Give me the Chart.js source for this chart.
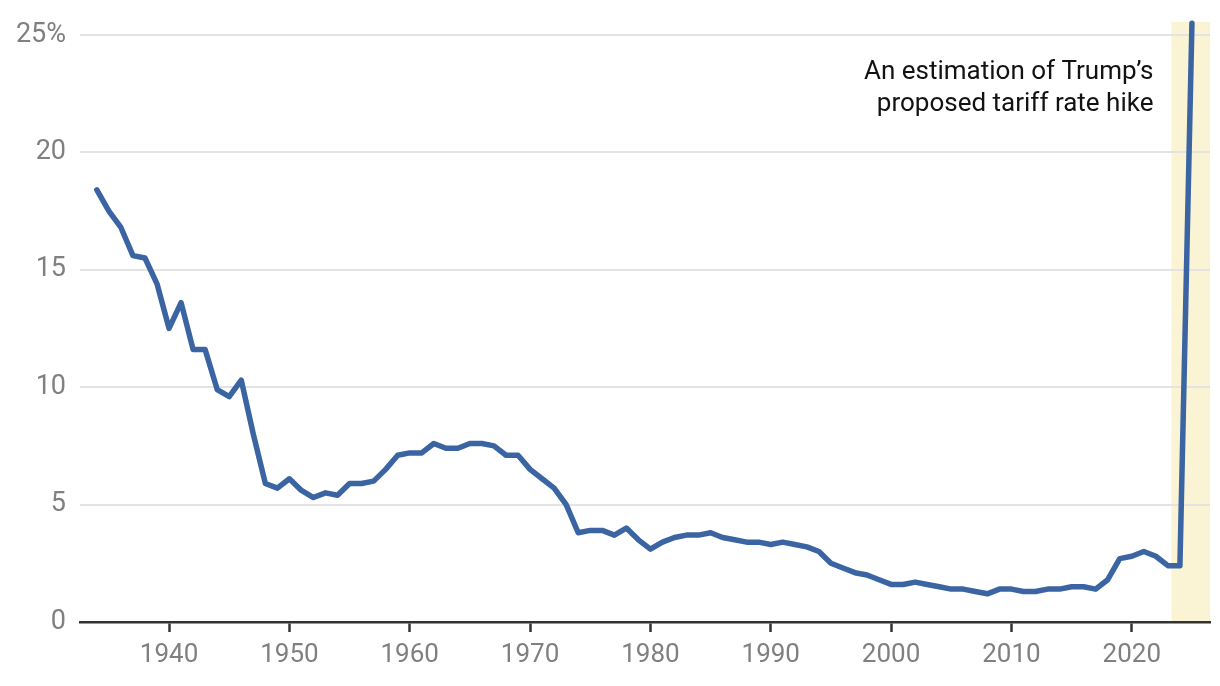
<!DOCTYPE html>
<html lang="en">
<head>
    <meta charset="UTF-8">
    <title>Tariff rate</title>
    <script src="https://cdn.jsdelivr.net/npm/chart.js"></script>
    <style>
        html, body { margin: 0; padding: 0; background: #fff; }
        #wrap { width: 1220px; height: 686px; }
    </style>
</head>
<body>
    <div id="wrap"><canvas id="chart" width="1220" height="686"></canvas></div>

    <script>
        // Average tariff rate by year, last point is the proposed hike
        const years = [];
        for (let y = 1934; y <= 2025; y++) years.push(y);

        const rates = [
            18.4, 17.5, 16.8, 15.6, 15.5, 14.4, 12.5, 13.6, 11.6, 11.6, // 1934-1943
            9.9, 9.6, 10.3, 8.0, 5.9, 5.7, 6.1, 5.6, 5.3, 5.5,          // 1944-1953
            5.4, 5.9, 5.9, 6.0, 6.5, 7.1, 7.2, 7.2, 7.6, 7.4,           // 1954-1963
            7.4, 7.6, 7.6, 7.5, 7.1, 7.1, 6.5, 6.1, 5.7, 5.0,           // 1964-1973
            3.8, 3.9, 3.9, 3.7, 4.0, 3.5, 3.1, 3.4, 3.6, 3.7,           // 1974-1983
            3.7, 3.8, 3.6, 3.5, 3.4, 3.4, 3.3, 3.4, 3.3, 3.2,           // 1984-1993
            3.0, 2.5, 2.3, 2.1, 2.0, 1.8, 1.6, 1.6, 1.7, 1.6,           // 1994-2003
            1.5, 1.4, 1.4, 1.3, 1.2, 1.4, 1.4, 1.3, 1.3, 1.4,           // 2004-2013
            1.4, 1.5, 1.5, 1.4, 1.8, 2.7, 2.8, 3.0, 2.8, 2.4,           // 2014-2023
            2.4, 25.5                                                   // 2024-2025
        ];

        const xTicks = [1940, 1950, 1960, 1970, 1980, 1990, 2000, 2010, 2020];
        const yTicks = [0, 5, 10, 15, 20, 25];
        const highlightRange = [2023.3, 2026.5];
        const noteLines = ["An estimation of Trump\u2019s", "proposed tariff rate hike"];

        const FONT = "Roboto, 'Liberation Sans', sans-serif";

        // yellow band behind the proposal, plus the note
        const extras = {
            id: 'extras',
            beforeDraw(chart) {
                const { ctx, chartArea, scales } = chart;
                const x0 = scales.x.getPixelForValue(highlightRange[0]);
                const x1 = scales.x.getPixelForValue(highlightRange[1]);
                ctx.save();
                ctx.fillStyle = '#fbf4d4';
                ctx.fillRect(x0, chartArea.top, x1 - x0, chartArea.bottom - chartArea.top);
                ctx.restore();
            },
            afterDraw(chart) {
                const { ctx, scales } = chart;
                const x = scales.x.getPixelForValue(2021.8);
                ctx.save();
                ctx.fillStyle = '#121212';
                ctx.font = '26px ' + FONT;
                ctx.textAlign = 'right';
                ctx.textBaseline = 'alphabetic';
                ctx.fillText(noteLines[0], x, 79);
                ctx.fillText(noteLines[1], x, 111);
                ctx.restore();
            }
        };

        new Chart(document.getElementById('chart').getContext('2d'), {
            type: 'line',
            data: {
                labels: years,
                datasets: [{
                    data: years.map((y, i) => ({ x: y, y: rates[i] })),
                    borderColor: '#3b64a3',
                    borderWidth: 5.5,
                    borderCapStyle: 'round',
                    borderJoinStyle: 'round',
                    pointRadius: 0,
                    tension: 0,
                    fill: false,
                    clip: false
                }]
            },
            options: {
                responsive: false,
                animation: false,
                layout: { padding: { top: 22, right: 10, left: 0, bottom: 0 } },
                plugins: {
                    legend: { display: false },
                    tooltip: { enabled: false }
                },
                scales: {
                    x: {
                        type: 'linear',
                        min: 1932.6,
                        max: 2026.5,
                        afterBuildTicks(scale) {
                            scale.ticks = xTicks.map(v => ({ value: v }));
                        },
                        afterFit(scale) { scale.height = 64; },
                        border: { display: true, color: '#333', width: 2.5 },
                        grid: {
                            drawOnChartArea: false,
                            drawTicks: true,
                            tickLength: 10,
                            tickColor: '#333',
                            tickWidth: 2.5
                        },
                        ticks: {
                            color: '#808080',
                            font: { family: FONT, size: 26 },
                            padding: 8,
                            maxRotation: 0,
                            callback: v => String(v)
                        }
                    },
                    y: {
                        min: 0,
                        max: 25.55,
                        afterBuildTicks(scale) {
                            scale.ticks = yTicks.map(v => ({ value: v }));
                        },
                        afterFit(scale) {
                            scale.width = 80;
                            scale.paddingTop = 0;
                            scale.paddingBottom = 0;
                        },
                        border: { display: false },
                        grid: {
                            drawTicks: false,
                            lineWidth: 2,
                            color: ctx => ctx.tick && ctx.tick.value === 0 ? 'rgba(0,0,0,0)' : '#e3e3e3'
                        },
                        ticks: {
                            color: '#808080',
                            font: { family: FONT, size: 27 },
                            padding: 14,
                            callback: v => v === 25 ? '25%' : String(v)
                        }
                    }
                }
            },
            plugins: [extras]
        });
    </script>
</body>
</html>
